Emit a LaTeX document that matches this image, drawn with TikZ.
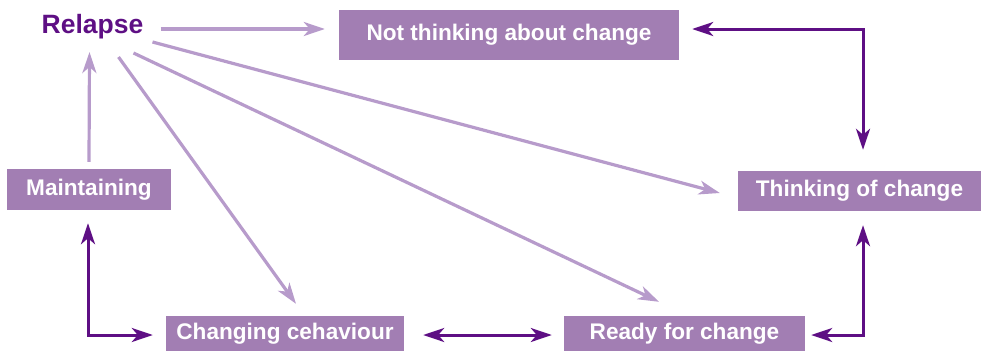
\documentclass[tikz,border=0pt]{standalone}
\usepackage{fontspec}
\setmainfont{Liberation Sans}
\usetikzlibrary{arrows.meta,calc}
\definecolor{boxfill}{HTML}{A27EB3}
\definecolor{lightarr}{HTML}{B79BCB}
\definecolor{darkarr}{HTML}{5E0F84}
\tikzset{
  stagebox/.style={fill=boxfill, text=white, inner sep=0pt, font=\fontsize{22.6}{26}\selectfont\bfseries},
  lightline/.style={draw=lightarr, line width=3.2pt, -{Stealth[length=21pt,width=14pt,inset=6pt]}},
  darkline/.style={draw=darkarr, line width=3pt, {Stealth[length=21pt,width=14pt,inset=6pt]}-{Stealth[length=21pt,width=14pt,inset=6pt]}},
}
\begin{document}
\begin{tikzpicture}[x=1pt,y=-1pt]
\useasboundingbox (0,0) rectangle (981,351);
\node[stagebox, minimum width=340pt, minimum height=50pt] (nt) at (509,35) {Not thinking about change};
\node[stagebox, minimum width=243pt, minimum height=40pt] (th) at (859.5,191) {Thinking of change};
\node[stagebox, minimum width=164pt, minimum height=41pt] (mt) at (89,189.5) {Maintaining};
\node[stagebox, minimum width=238pt, minimum height=35pt] (cb) at (285,333.5) {Changing cehaviour};
\node[stagebox, minimum width=241pt, minimum height=35pt] (rf) at (684.5,333.5) {Ready for change};
\node[text=darkarr, inner sep=0pt, font=\fontsize{26.5}{30}\selectfont\bfseries] (rel) at (92.5,27) {Relapse};
% light arrows from Relapse
\draw[lightline] ([shift={(68,2)}]rel.center) -- ([shift={(-14,-6)}]nt.west);
\draw[lightline] ([shift={(60,15)}]rel.center) -- ([shift={(-18,2)}]th.west);
\draw[lightline] ([shift={(41,26)}]rel.center) -- ([shift={(-25.5,-14)}]rf.north);
\draw[lightline] ([shift={(26,30)}]rel.center) -- ([shift={(11,-12)}]cb.north);
\draw[lightline] ([shift={(0,-7)}]mt.north) -- ([shift={(-3,25)}]rel.center);
% dark two-way arrows
\draw[darkline] ([shift={(13,-6)}]nt.east) -| ([shift={(3.5,-21)}]th.north);
\draw[darkline] ([shift={(-1,13)}]mt.south) |- ([shift={(-13,1.5)}]cb.west);
\draw[darkline] ([shift={(19,1.5)}]cb.east) -- ([shift={(-12,1.5)}]rf.west);
\draw[darkline] ([shift={(6,1.5)}]rf.east) -| ([shift={(3.5,14)}]th.south);
\end{tikzpicture}
\end{document}
